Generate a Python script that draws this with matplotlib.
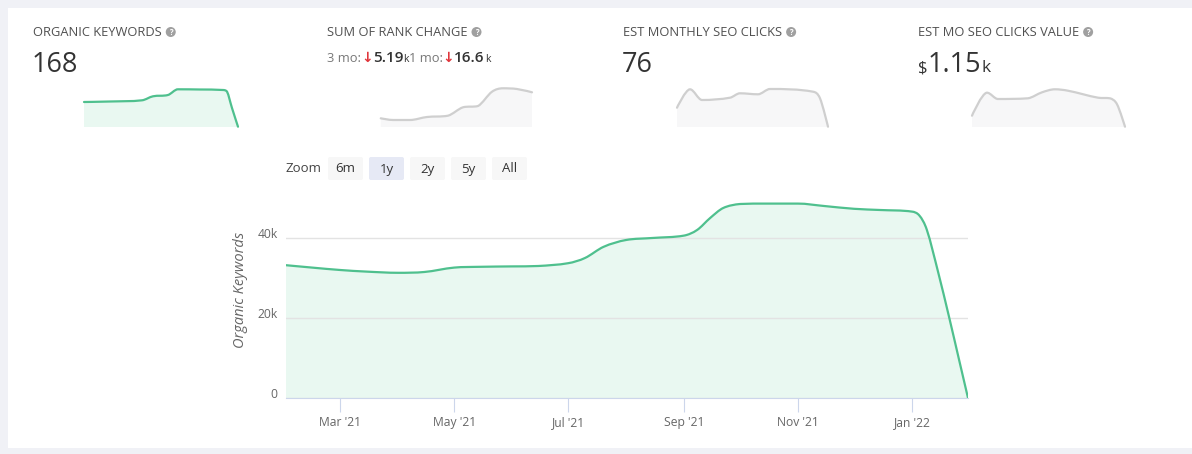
import matplotlib
matplotlib.use('Agg')
import matplotlib.pyplot as plt
import matplotlib.dates as mdates
import pandas as pd
from matplotlib.patches import FancyBboxPatch, Rectangle, Circle, PathPatch
from matplotlib.path import Path
from matplotlib.transforms import ScaledTranslation

plt.rcParams['font.family'] = ['Open Sans', 'DejaVu Sans']

W, H = 1192, 454

# main series: organic keywords (thousands)
kw_dates = ["2021-01-31", "2021-02-14", "2021-03-01", "2021-03-15", "2021-04-01",
            "2021-04-15", "2021-05-01", "2021-05-15", "2021-06-01", "2021-06-15",
            "2021-07-01", "2021-07-10", "2021-07-20", "2021-08-01", "2021-08-15",
            "2021-09-01", "2021-09-08", "2021-09-15", "2021-09-22", "2021-10-01",
            "2021-10-15", "2021-11-01", "2021-11-15", "2021-12-01", "2021-12-15",
            "2022-01-01", "2022-01-05", "2022-01-09", "2022-01-15", "2022-01-21",
            "2022-01-26", "2022-01-31"]
kw_values = [33.2, 32.6, 32.0, 31.6, 31.3, 31.5, 32.6, 32.8, 32.9, 33.0,
             33.7, 35.0, 37.8, 39.5, 40.0, 40.6, 42.0, 45.0, 47.5, 48.5,
             48.6, 48.6, 48.0, 47.3, 47.0, 46.6, 45.6, 42.0, 31.5, 20.0,
             10.0, 0.0]

x_tick_dates = ["2021-03-01", "2021-05-01", "2021-07-01", "2021-09-01",
                "2021-11-01", "2022-01-01"]
x_tick_labels = ["Mar '21", "May '21", "Jul '21", "Sep '21", "Nov '21", "Jan '22"]
y_ticks = [0, 20000, 40000]
y_tick_labels = ["0", "20k", "40k"]

# sparklines (relative position 0-100, relative height)
spark1_x = [0, 16.9, 37.7, 44.8, 54.5, 61, 75.3, 90.3, 92.9, 96.1, 100]
spark1_y = [25, 25.5, 26.7, 30.7, 32, 37.7, 37.5, 37, 35.3, 19, 0.3]
spark2_x = [0.5, 8.6, 19.7, 30.9, 44.7, 54.6, 64.5, 73.7, 80.9, 90.1, 100]
spark2_y = [8.7, 7, 7, 10, 11.3, 19.7, 21, 35.3, 38.7, 38, 34.7]
spark3_x = [0, 8.6, 16.6, 35.1, 41.7, 53.6, 61.6, 90.1, 94.7, 100]
spark3_y = [19.3, 37.7, 27, 29.3, 33.7, 32.7, 38, 35.3, 28.7, 0.3]
spark4_x = [0, 9.8, 17, 36.6, 45.8, 54.2, 62.7, 82.4, 90.2, 94.8, 100]
spark4_y = [11.3, 34.3, 28, 28.7, 34.7, 37.7, 36.3, 29.3, 28.7, 22.7, 0.3]

titles = ["ORGANIC KEYWORDS", "SUM OF RANK CHANGE", "EST MONTHLY SEO CLICKS",
          "EST MO SEO CLICKS VALUE"]
zoom_buttons = ["6m", "1y", "2y", "5y", "All"]

GREEN = '#4fc08e'
GREEN_FILL = '#e9f8f1'
GREY_LINE = '#cfcfcf'
GREY_FILL = '#f7f7f8'


def spline_path(x, y, close=False):
    # highcharts-like spline: tangent through neighbours, flattened at extremes
    n = len(x)
    slopes = []
    for i in range(n):
        if i == 0 or i == n - 1:
            slopes.append(None)
            continue
        lo, hi = y[i - 1], y[i + 1]
        if (y[i] - lo) * (y[i] - hi) >= 0:
            slopes.append(0.0)
        else:
            slopes.append((hi - lo) / (x[i + 1] - x[i - 1]))
    verts = [(x[0], y[0])]
    codes = [Path.MOVETO]
    for i in range(n - 1):
        dx = (x[i + 1] - x[i]) / 3
        lo, hi = sorted((y[i], y[i + 1]))
        if slopes[i] is None:
            c1 = (x[i], y[i])
        else:
            c1 = (x[i] + dx, min(max(y[i] + slopes[i] * dx, lo), hi))
        if slopes[i + 1] is None:
            c2 = (x[i + 1], y[i + 1])
        else:
            c2 = (x[i + 1] - dx, min(max(y[i + 1] - slopes[i + 1] * dx, lo), hi))
        verts += [c1, c2, (x[i + 1], y[i + 1])]
        codes += [Path.CURVE4] * 3
    if close:
        verts += [(x[-1], 0), (x[0], 0), (x[0], y[0])]
        codes += [Path.LINETO, Path.LINETO, Path.CLOSEPOLY]
    return Path(verts, codes)


def spline_area(axis, x, y, line_color, fill_color, lw, clip=True):
    axis.add_patch(PathPatch(spline_path(x, y, close=True), facecolor=fill_color,
                             edgecolor='none', zorder=1))
    axis.add_patch(PathPatch(spline_path(x, y), facecolor='none', edgecolor=line_color,
                             lw=lw, zorder=3, clip_on=clip, capstyle='round'))


fig = plt.figure(figsize=(W / 100, H / 100), dpi=100, facecolor='#f0f1f6')

# pixel-space background axes for the card, texts and buttons
bg = fig.add_axes([0, 0, 1, 1], zorder=0)
bg.set_xlim(0, W)
bg.set_ylim(H, 0)
bg.axis('off')
bg.add_patch(Rectangle((8, 8), W - 8, 440, facecolor='white', edgecolor='none'))

renderer = fig.canvas.get_renderer()


def help_icon(x, y):
    bg.add_patch(Circle((x, y), 5, facecolor='#a0a0a0', edgecolor='none'))
    bg.text(x, y + 0.5, '?', fontsize=5.5, color='white', weight='bold',
            ha='center', va='center')


def text_run(x, y, pieces):
    for s, size, color, weight in pieces:
        t = bg.text(x, y, s, fontsize=size, color=color, weight=weight, va='baseline')
        x += t.get_window_extent(renderer).width


title_x = [33, 327, 623, 918]
for tx, title in zip(title_x, titles):
    t = bg.text(tx, 32, title, fontsize=9.3, color='#505050', va='center')
    help_icon(tx + t.get_window_extent(renderer).width + 9, 32)

bg.text(32, 72, "168", fontsize=19.5, color='#333333', va='baseline')
bg.text(622, 72, "76", fontsize=19.5, color='#333333', va='baseline')
text_run(918, 72, [("$", 12, '#333333', 'normal'), ("1.15", 19.5, '#333333', 'normal'),
                   ("k", 12.5, '#333333', 'normal')])
text_run(327, 62, [("3 mo:", 9.3, '#777777', 'normal'), ("↓", 10, '#e0363c', 'bold'),
                   ("5.19", 11, '#333333', 'semibold'), ("k", 7.5, '#333333', 'normal'),
                   ("1 mo:", 9.3, '#777777', 'normal'), ("↓", 10, '#e0363c', 'bold'),
                   ("16.6", 11, '#333333', 'semibold'), ("k", 7.5, '#333333', 'normal')])

# zoom buttons
bg.text(285, 169, "Zoom", fontsize=9.5, color='#444444', va='center')
for i, lab in enumerate(zoom_buttons):
    bx = 328 + i * 41
    fc = '#e6e9f5' if lab == "1y" else '#f7f7f7'
    bg.add_patch(FancyBboxPatch((bx, 157), 35, 23, boxstyle='round,pad=0,rounding_size=2',
                                facecolor=fc, edgecolor='none'))
    bg.text(bx + 17.5, 169, lab, fontsize=9.5, color='#333333', ha='center', va='center')

bg.text(241, 290, "Organic Keywords", fontsize=10.5, color='#666666', style='italic',
        rotation=90, ha='center', va='center')

# sparklines
sparks = [(84, 238, spark1_x, spark1_y, GREEN, GREEN_FILL),
          (380, 532, spark2_x, spark2_y, GREY_LINE, GREY_FILL),
          (677, 828, spark3_x, spark3_y, GREY_LINE, GREY_FILL),
          (972, 1125, spark4_x, spark4_y, GREY_LINE, GREY_FILL)]
for x0, x1, sx, sy, lc, fc in sparks:
    sa = fig.add_axes([x0 / W, 1 - 127 / H, (x1 - x0) / W, 40 / H], zorder=2)
    spline_area(sa, sx, sy, lc, fc, 1.6, clip=False)
    sa.set_xlim(0, 100)
    sa.set_ylim(0, 40)
    sa.axis('off')

# main chart
ax = fig.add_axes([286 / W, 1 - 398 / H, 682 / W, 200 / H], zorder=2)
ax.patch.set_alpha(0)
dates = mdates.date2num(pd.to_datetime(kw_dates))
vals = [v * 1000 for v in kw_values]
spline_area(ax, list(dates), vals, GREEN, GREEN_FILL, 1.6)
ax.xaxis_date()
ax.set_xlim(pd.Timestamp("2021-01-31"), pd.Timestamp("2022-01-31"))
ax.set_ylim(0, 50000)
ax.set_xticks(pd.to_datetime(x_tick_dates))
ax.set_xticklabels(x_tick_labels)
ax.set_yticks(y_ticks)
ax.set_yticklabels(y_tick_labels)
ax.yaxis.grid(True, color='#e3e3e3', lw=1, zorder=2)
ax.set_axisbelow(False)
for side in ['top', 'right', 'left']:
    ax.spines[side].set_visible(False)
ax.spines['bottom'].set_color('#ccd6eb')
ax.tick_params(axis='x', length=10, color='#ccd6eb', labelsize=8.7, labelcolor='#666666', pad=3)
ax.tick_params(axis='y', length=0, labelsize=8.7, labelcolor='#666666', pad=6)
shift = ScaledTranslation(0, 0.05, fig.dpi_scale_trans)
for lab in ax.get_yticklabels():
    lab.set_transform(lab.get_transform() + shift)

fig.savefig('out.png', dpi=100, facecolor=fig.get_facecolor())
